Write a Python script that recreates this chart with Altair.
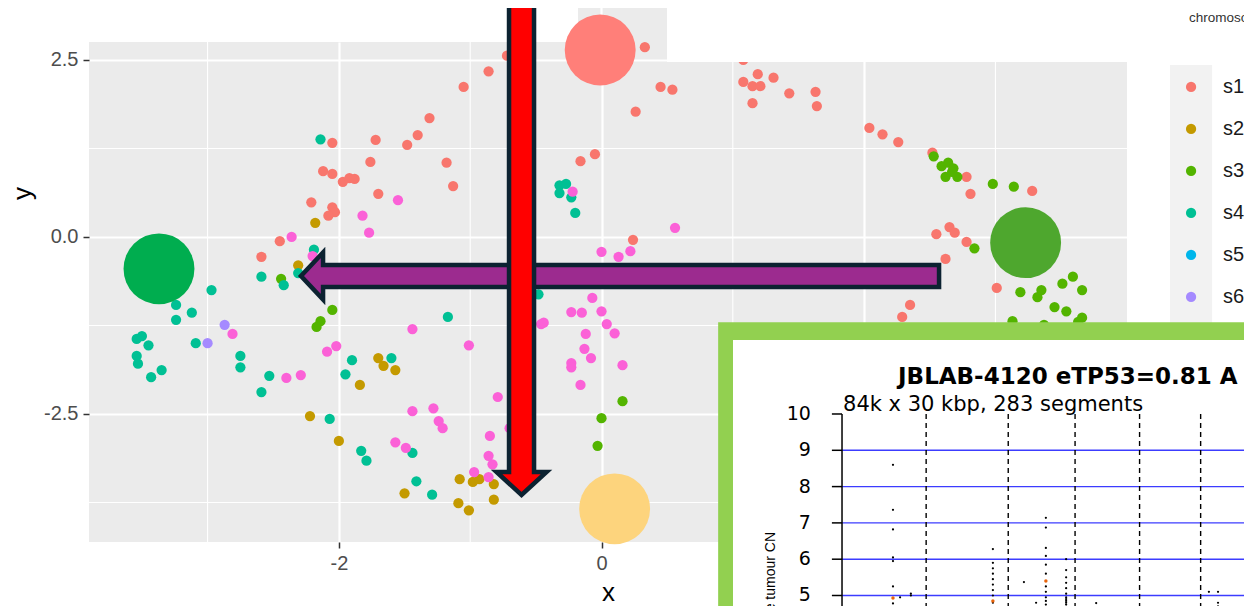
import altair as alt
import pandas as pd

# ---------------- main scatter ----------------
categories = ["s1", "s2", "s3", "s4", "s5", "s6", "s7"]
palette = ["#F8766D", "#C49A00", "#53B400", "#00C094", "#00B6EB", "#A58AFF", "#FB61D7"]

s1_x = [-0.72, -0.86, -1.05, -1.31, -1.40, -1.48, -1.72, -2.05, -1.76, -2.12, -2.05, -1.97, -1.92, -1.88,
        -2.21, -2.05, -2.03, -2.08, -1.70, -1.18, -1.13, -2.45, -2.59, -0.16, -0.05, 0.24, 0.33, 0.45,
        0.54, 0.26, 1.08, 1.19, 1.31, 1.08, 1.15, 1.21, 1.15, 1.43, 1.63, 1.64, 2.04, 2.14, 2.26, 2.52,
        2.78, 2.81, 3.28, 2.55, 2.65, 2.69, 2.78, 2.62, 3.01, 2.35, 2.29]
s1_y = [2.56, 2.34, 2.12, 1.68, 1.44, 1.30, 1.37, 1.33, 1.06, 0.93, 0.89, 0.78, 0.83, 0.82,
        0.49, 0.42, 0.35, 0.30, 0.61, 1.05, 0.72, -0.06, -0.28, 1.07, 1.17, -0.04, 2.68, 2.12,
        2.08, 1.77, 2.50, 2.30, 2.25, 2.19, 2.13, 2.13, 1.89, 2.03, 2.05, 1.85, 1.54, 1.45, 1.34, 1.19,
        0.85, 0.61, 0.65, 0.04, 0.14, 0.06, -0.07, -0.31, -0.72, -0.96, -1.13]

s2_x = [-2.18, -2.31, -1.70, -1.66, -1.57, -1.84, -2.22, -2.00, -1.50, -1.08, -0.98, -0.93, -0.82, -0.82,
        -1.09, -1.01]
s2_y = [0.20, -0.40, -1.71, -1.82, -1.88, -2.09, -2.53, -2.88, -3.62, -3.42, -3.46, -3.42, -3.49, -3.71,
        -3.76, -3.86]

s3_x = [-2.44, -2.05, -2.14, -2.17, 0.16, 0.00, -0.03, 2.53, 2.59, 2.64, 2.68, 2.71, 2.62, 2.67, 2.98,
        3.14, 2.84, 3.19, 3.35, 3.32, 3.51, 3.59, 3.66, 3.45, 3.54, 3.13, 3.37, 3.66, 3.63]
s3_y = [-0.59, -1.03, -1.19, -1.27, -2.32, -2.56, -2.95, 1.14, 1.00, 1.05, 0.97, 0.85, 0.85, 0.92, 0.75,
        0.71, -0.16, -0.78, -0.75, -0.85, -0.66, -0.56, -0.75, -0.99, -1.05, -1.19, -1.24, -1.14, -1.20]

s4_x = [-2.14, -2.19, -2.31, -2.59, -2.42, -2.97, -3.24, -3.12, -3.24, -3.50, -3.54, -3.45, -3.54, -3.53,
        -3.43, -3.35, -3.09, -2.75, -2.75, -2.53, -2.59, -1.90, -1.95, -1.60, -2.07, -1.83, -1.79, -1.44,
        -1.41, -1.29, -1.17, -0.32, -0.27, -0.32, -0.23, -0.20, -0.48]
s4_y = [1.38, -0.18, -0.51, -0.56, -0.68, -0.75, -0.96, -1.07, -1.17, -1.40, -1.44, -1.53, -1.68, -1.79,
        -1.98, -1.88, -1.50, -1.68, -1.84, -1.96, -2.19, -1.74, -1.94, -1.71, -2.57, -3.02, -3.16, -3.05,
        -3.45, -3.64, -1.13, 0.73, 0.75, 0.62, 0.56, 0.34, -0.81]

s5_x = []
s5_y = []

s6_x = [-2.87, -3.00]
s6_y = [-1.24, -1.50]

s7_x = [-1.55, -1.82, -1.77, -2.36, -2.20, -2.81, -2.09, -2.02, -2.40, -2.29, -1.44, -1.01, -1.44, -1.28,
        -1.24, -1.21, -1.57, -1.49, -0.79, -0.85, -0.70, -0.86, -0.83, -0.97, -0.86, -0.22, 0.56, 0.00,
        0.13, 0.22, -0.07, -0.23, -0.15, 0.00, -0.46, -0.44, 0.04, 0.10, -0.12, -0.13, -0.08, -0.23,
        -0.23, 0.16, -0.16]
s7_y = [0.52, 0.30, 0.06, 0.00, -0.27, -1.37, -1.62, -1.54, -1.99, -1.95, -1.30, -1.53, -2.46, -2.42,
        -2.60, -2.70, -2.90, -2.98, -2.26, -2.81, -2.70, -3.09, -3.21, -3.32, -3.39, 0.64, 0.13, -0.21,
        -0.28, -0.20, -0.86, -1.06, -1.07, -1.05, -1.23, -1.21, -1.23, -1.36, -1.37, -1.58, -1.71, -1.78,
        -1.84, -1.81, -2.09]

x_major = [-2, 0, 2]
x_minor = [-3, -1, 1, 3]
y_major = [-2.5, 0.0, 2.5]
y_minor = [-3.75, -1.25, 1.25]

# ---------------- inset (copy-number plot) values ----------------
inset_title = "JBLAB-4120 eTP53=0.81 A"
inset_subtitle = "84k x 30 kbp, 283 segments"
inset_ylabel = "Absolute tumour CN"
cn_ticks = [10, 9, 8, 7, 6, 5]
cn_lines = [9, 8, 7, 6, 5]
chrom_bounds = [249.25, 492.45, 690.47, 881.62, 1062.54]  # Mb, cumulative
dot_pos = [151, 151, 151, 151, 151, 151, 151, 172, 204, 204,
           447, 447, 447, 447, 447, 447, 447, 447, 447, 539, 575,
           604, 604, 604, 604, 604, 604, 604, 604, 604, 604, 604,
           664, 664, 664, 664, 664, 664, 664, 664, 664, 664, 664,
           753, 1087, 1114, 1114, 1114, 1135]
dot_cn = [8.60, 7.36, 6.82, 6.05, 5.95, 5.25, 4.78, 4.95, 5.05, 5.00,
          6.28, 5.90, 5.75, 5.60, 5.45, 5.30, 5.15, 5.00, 4.80, 5.37, 4.80,
          7.14, 6.87, 6.31, 6.09, 5.85, 5.60, 5.25, 5.10, 4.95, 4.85, 4.75,
          6.00, 5.70, 5.50, 5.35, 5.20, 5.05, 4.95, 4.90, 4.85, 4.80, 4.75,
          4.79, 5.10, 5.10, 4.80, 4.70, 4.65]
seg_pos = [151, 447, 604]
seg_cn = [4.93, 4.85, 5.40]

# ---------------- build tables ----------------
series_x = dict(zip(categories, [s1_x, s2_x, s3_x, s4_x, s5_x, s6_x, s7_x]))
series_y = dict(zip(categories, [s1_y, s2_y, s3_y, s4_y, s5_y, s6_y, s7_y]))
frames = []
for name in categories:
    xs, ys = series_x[name], series_y[name]
    frames.append(pd.DataFrame({"x": xs, "y": ys, "series": [name] * len(xs)}))
pts = pd.concat(frames, ignore_index=True)

XS = alt.Scale(domain=[-3.903, 4.002], nice=False, zero=False)
YS = alt.Scale(domain=[-4.308, 2.754], nice=False, zero=False)
FONT = "Liberation Sans"

AXX = alt.Axis(values=x_major, labelExpr="replace(format(datum.value, 'd'), '\u2212', '-')",
               grid=True, gridColor="white", gridWidth=2.2, domain=False,
               tickColor="#333333", tickSize=6, tickWidth=1.5,
               labelColor="#4D4D4D", labelFontSize=20, labelFont=FONT,
               labelBaseline="middle", labelPadding=15,
               titleFont=FONT, titleFontSize=26, titleFontWeight="normal", titleColor="black",
               titleBaseline="alphabetic", titleY=58)
AXY = alt.Axis(values=y_major, labelExpr="replace(format(datum.value, '.1f'), '\u2212', '-')",
               grid=True, gridColor="white", gridWidth=2.2, domain=False,
               tickColor="#333333", tickSize=6, tickWidth=1.5,
               labelColor="#4D4D4D", labelFontSize=20, labelFont=FONT, labelPadding=5,
               titleFont=FONT, titleFontSize=26, titleFontWeight="normal", titleColor="black",
               titleAngle=270, titleBaseline="middle", titleAlign="center",
               titleX=-67, titleY=151)


def X(f):
    return alt.X(f, scale=XS, axis=AXX, title="x")


def Y(f):
    return alt.Y(f, scale=YS, axis=AXY, title="y")


minor_x = alt.Chart(pd.DataFrame({"x": x_minor})).mark_rule(color="white", strokeWidth=1.1).encode(x=X("x:Q"))
minor_y = alt.Chart(pd.DataFrame({"y": y_minor})).mark_rule(color="white", strokeWidth=1.1).encode(y=Y("y:Q"))

points = alt.Chart(pts).mark_circle(size=105, opacity=1).encode(
    x=X("x:Q"), y=Y("y:Q"),
    color=alt.Color("series:N", scale=alt.Scale(domain=categories, range=palette), legend=None),
)

# overlaid screenshot fragments at the top
strip = alt.Chart(pd.DataFrame({"x": [-0.179], "x2": [0.499], "y": [2.754], "y2": [3.40]})).mark_rect(
    color="#EBEBEB").encode(x=X("x:Q"), x2="x2:Q", y=Y("y:Q"), y2="y2:Q")
strip_line = alt.Chart(pd.DataFrame({"x": [0.0], "y": [2.754], "y2": [3.40]})).mark_rule(
    color="white", strokeWidth=2.2).encode(x=X("x:Q"), y=Y("y:Q"), y2="y2:Q")
white_top = alt.Chart(pd.DataFrame({"x": [0.499], "x2": [5.0], "y": [2.472], "y2": [3.40]})).mark_rect(
    color="white").encode(x=X("x:Q"), x2="x2:Q", y=Y("y:Q"), y2="y2:Q")
top_text = alt.Chart(pd.DataFrame({"x": [4.475], "y": [3.09], "t": ["chromosome"]})).mark_text(
    align="left", baseline="middle", fontSize=13.5, font=FONT, color="#333333").encode(
    x=X("x:Q"), y=Y("y:Q"), text="t:N")

# legend drawn as marks
leg = pd.DataFrame({"label": categories, "color": palette,
                    "y": [2.119 - i * 0.593 for i in range(len(categories))],
                    "kx": [4.49] * len(categories), "lx": [4.733] * len(categories)})
leg_bg = alt.Chart(pd.DataFrame({"x": [4.33], "x2": [4.65], "y": [-1.74], "y2": [2.43]})).mark_rect(
    color="#F2F2F2").encode(x=X("x:Q"), x2="x2:Q", y=Y("y:Q"), y2="y2:Q")
leg_keys = alt.Chart(leg).mark_circle(size=105, opacity=1).encode(
    x=X("kx:Q"), y=Y("y:Q"), color=alt.Color("color:N", scale=None))
leg_text = alt.Chart(leg).mark_text(align="left", baseline="middle", fontSize=20, font=FONT,
                                    color="#1A1A1A").encode(x=X("lx:Q"), y=Y("y:Q"), text="label:N")

# arrows: custom symbol paths anchored at data positions
RED_PATH = "M -0.05 -0.986 L 0.05 -0.986 L 0.05 0.894 L 0.1 0.894 L 0 0.986 L -0.1 0.894 L -0.05 0.894 Z"
PURPLE_PATH = ("M 0.997 -0.0344 L -0.928 -0.0344 L -0.928 -0.0734 L -0.997 0 L -0.928 0.0734 "
               "L -0.928 0.0344 L 0.997 0.0344 Z")
purple = alt.Chart(pd.DataFrame({"x": [0.141], "y": [-0.551]})).mark_point(
    shape=PURPLE_PATH, size=409600, filled=True, fill="#9C2B8F", stroke="#0C2231", strokeWidth=4.5,
    opacity=1, fillOpacity=1, strokeOpacity=1, strokeJoin="miter").encode(x=X("x:Q"), y=Y("y:Q"))
red = alt.Chart(pd.DataFrame({"x": [-0.609], "y": [-0.162]})).mark_point(
    shape=RED_PATH, size=250000, filled=True, fill="#FF0000", stroke="#0C2231", strokeWidth=4.5,
    opacity=1, fillOpacity=1, strokeOpacity=1, strokeJoin="miter").encode(x=X("x:Q"), y=Y("y:Q"))

circles = pd.DataFrame({"x": [-0.01, -3.37, 3.23, 0.10], "y": [2.64, -0.45, -0.08, -3.84],
                        "c": ["#FF7F79", "#00AD4F", "#4EA72E", "#FDD47D"]})
blobs = alt.Chart(circles).mark_circle(size=5027, opacity=1).encode(
    x=X("x:Q"), y=Y("y:Q"), color=alt.Color("c:N", scale=None))

# ---------------- inset: genome position (Mb) / CN mapped into the panel ----------------
IX0, IXK = 1.8317, 0.0025704
IY0, IYK = -2.5, 0.51271


def px(col):
    return f"{IX0} + {IXK} * datum.{col}"


def py(col):
    return f"{IY0} + {IYK} * (datum.{col} - 10)"


def inset_rect(p1, p2, c1, c2, color):
    return alt.Chart(pd.DataFrame({"p1": [p1], "p2": [p2], "c1": [c1], "c2": [c2]})).transform_calculate(
        x=px("p1"), x2=px("p2"), y=py("c1"), y2=py("c2")).mark_rect(color=color).encode(
        x=X("x:Q"), x2="x2:Q", y=Y("y:Q"), y2="y2:Q")


frame_green = inset_rect(-367, 1500, 3.5, 12.53, "#92D050")
frame_white = inset_rect(-323, 1500, 3.5, 12.04, "white")

blue = alt.Chart(pd.DataFrame({"cn": cn_lines, "a": [0] * len(cn_lines), "b": [1500] * len(cn_lines)})).transform_calculate(
    x=px("a"), x2=px("b"), y=py("cn")).mark_rule(color="#3C3CFF", strokeWidth=1.4).encode(
    x=X("x:Q"), x2="x2:Q", y=Y("y:Q"))
dashed = alt.Chart(pd.DataFrame({"pos": chrom_bounds, "a": [10] * len(chrom_bounds),
                                 "b": [3.5] * len(chrom_bounds)})).transform_calculate(
    x=px("pos"), y=py("a"), y2=py("b")).mark_rule(color="black", strokeWidth=1.4, strokeDash=[5, 4]).encode(
    x=X("x:Q"), y=Y("y:Q"), y2="y2:Q")
axis_line = alt.Chart(pd.DataFrame({"pos": [0], "a": [10], "b": [3.5]})).transform_calculate(
    x=px("pos"), y=py("a"), y2=py("b")).mark_rule(color="black", strokeWidth=1.5).encode(
    x=X("x:Q"), y=Y("y:Q"), y2="y2:Q")
ticks = alt.Chart(pd.DataFrame({"cn": cn_ticks, "a": [-30] * len(cn_ticks), "b": [0] * len(cn_ticks)})).transform_calculate(
    x=px("a"), x2=px("b"), y=py("cn")).mark_rule(color="black", strokeWidth=1.5).encode(
    x=X("x:Q"), x2="x2:Q", y=Y("y:Q"))
tick_labels = alt.Chart(pd.DataFrame({"cn": cn_ticks, "p": [-92] * len(cn_ticks),
                                      "t": [str(v) for v in cn_ticks]})).transform_calculate(
    x=px("p"), y=py("cn")).mark_text(align="right", baseline="middle", fontSize=19, font="DejaVu Sans",
                                      color="black").encode(x=X("x:Q"), y=Y("y:Q"), text="t:N")
title_t = alt.Chart(pd.DataFrame({"p": [166], "cn": [10.83], "t": [inset_title]})).transform_calculate(
    x=px("p"), y=py("cn")).mark_text(align="left", baseline="alphabetic", fontSize=23, font="DejaVu Sans",
                                      fontWeight="bold", color="black").encode(x=X("x:Q"), y=Y("y:Q"), text="t:N")
sub_t = alt.Chart(pd.DataFrame({"p": [3], "cn": [10.08], "t": [inset_subtitle]})).transform_calculate(
    x=px("p"), y=py("cn")).mark_text(align="left", baseline="alphabetic", fontSize=21, font="DejaVu Sans",
                                      color="black").encode(x=X("x:Q"), y=Y("y:Q"), text="t:N")
ylab_t = alt.Chart(pd.DataFrame({"p": [-210], "cn": [6.75], "t": [inset_ylabel]})).transform_calculate(
    x=px("p"), y=py("cn")).mark_text(align="right", baseline="middle", angle=270, fontSize=14, font=FONT,
                                      color="black").encode(x=X("x:Q"), y=Y("y:Q"), text="t:N")
dots = alt.Chart(pd.DataFrame({"pos": dot_pos, "cn": dot_cn})).transform_calculate(
    x=px("pos"), y=py("cn")).mark_circle(size=5, opacity=1, color="black").encode(x=X("x:Q"), y=Y("y:Q"))
segs = alt.Chart(pd.DataFrame({"pos": seg_pos, "cn": seg_cn})).transform_calculate(
    x=px("pos"), y=py("cn")).mark_circle(size=12, opacity=1, color="#E8630A").encode(x=X("x:Q"), y=Y("y:Q"))

chart = alt.layer(
    minor_x, minor_y, points, strip, strip_line, white_top, top_text,
    leg_bg, leg_keys, leg_text, purple, red, blobs,
    frame_green, frame_white, blue, dashed, axis_line, ticks, tick_labels,
    title_t, sub_t, ylab_t, dots, segs,
).properties(
    width=1038, height=500,
    padding={"left": 81, "top": 34, "right": 117, "bottom": 64},
    autosize=alt.AutoSizeParams(type="none"),
    background="white",
).configure_view(strokeWidth=0, fill="#EBEBEB")

chart.save("out.html", embed_options={"renderer": "svg", "actions": False})
